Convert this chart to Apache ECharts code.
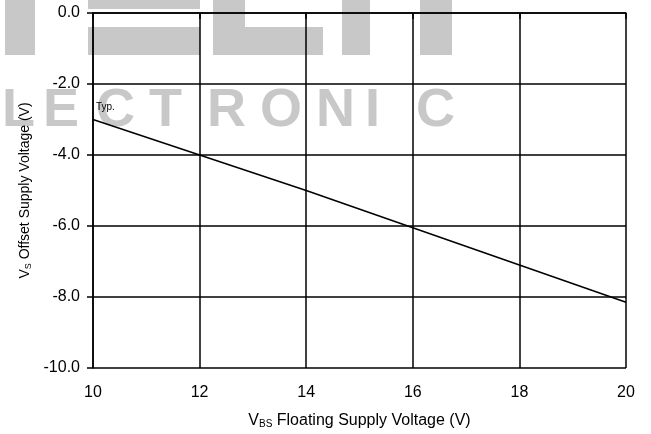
<!DOCTYPE html>
<html><head><meta charset="utf-8">
<script src="https://cdn.jsdelivr.net/npm/echarts@6/dist/echarts.min.js"></script>
<style>html,body{margin:0;padding:0;background:#fff}#c{width:651px;height:434px}</style>
</head><body><div id="c"></div>
<script>
const vbs = [10, 12, 14, 16, 18, 20];
const vsOffset = [-3.0, -4.0, -5.0, -6.05, -7.1, -8.15];
const xTicks = [10, 12, 14, 16, 18, 20];
const yTicks = [0, -2, -4, -6, -8, -10];
const watermark = ['L','E','C','T','R','O','N','I','C'];
const wmX = [2, 43, 96, 149, 207, 260, 316, 365, 416];

const chart = echarts.init(document.getElementById('c'));
const font = '"Liberation Sans", Arial, sans-serif';
const wmColor = '#c8c8c8';
const graphics = watermark.map((ch, i) => ({
  type: 'text', left: wmX[i], top: 84, z: -10, silent: true,
  style: { text: ch, font: 'bold 54px ' + font, fill: wmColor }
}));
[[5,0,30,55],[88,0,112,9],[88,27,112,28],[213,0,32,55],[213,27,110,28],[342,0,28,55],[420,0,32,55]].forEach(r => {
  graphics.push({ type: 'rect', silent: true, z: -10, shape: { x: r[0], y: r[1], width: r[2], height: r[3] }, style: { fill: wmColor } });
});
graphics.push({ type: 'text', left: 96, top: 102, style: { text: 'Typ.', font: '10px ' + font, fill: '#000' } });

chart.setOption({
  animation: false,
  backgroundColor: '#fff',
  graphic: graphics,
  grid: { left: 93, right: 25, top: 13, bottom: 66 },
  xAxis: {
    type: 'value', min: 10, max: 20, interval: 2,
    axisLine: { show: true, lineStyle: { color: '#000', width: 1.5 } },
    axisTick: { show: true, length: 6, lineStyle: { color: '#000', width: 1.5 } },
    splitLine: { show: true, lineStyle: { color: '#000', width: 1.5 } },
    axisLabel: { color: '#000', fontSize: 16, fontFamily: font, margin: 17 },
    name: '{n|V}{s|BS}{n| Floating Supply Voltage (V)}',
    nameLocation: 'middle', nameGap: 45,
    nameTextStyle: { rich: { n: { fontSize: 16, fontFamily: font, color: '#000' }, s: { fontSize: 10, fontFamily: font, color: '#000', padding: [6, 0, 0, 0] } } }
  },
  yAxis: {
    type: 'value', min: -10, max: 0, interval: 2,
    axisLine: { show: true, lineStyle: { color: '#000', width: 1.5 } },
    axisTick: { show: true, length: 6, lineStyle: { color: '#000', width: 1.5 } },
    splitLine: { show: true, lineStyle: { color: '#000', width: 1.5 } },
    axisLabel: { color: '#000', fontSize: 16, fontFamily: font, margin: 13, formatter: v => v.toFixed(1) },
    name: '{n|V}{s|S}{n| Offset Supply Voltage (V)}',
    nameLocation: 'middle', nameGap: 60, nameRotate: 90,
    nameTextStyle: { rich: { n: { fontSize: 14, fontFamily: font, color: '#000' }, s: { fontSize: 9, fontFamily: font, color: '#000', padding: [6, 0, 0, 0] } } }
  },
  series: [{
    type: 'line', data: vbs.map((x, i) => [x, vsOffset[i]]),
    showSymbol: false, lineStyle: { color: '#000', width: 1.5 }
  }]
});
</script></body></html>
